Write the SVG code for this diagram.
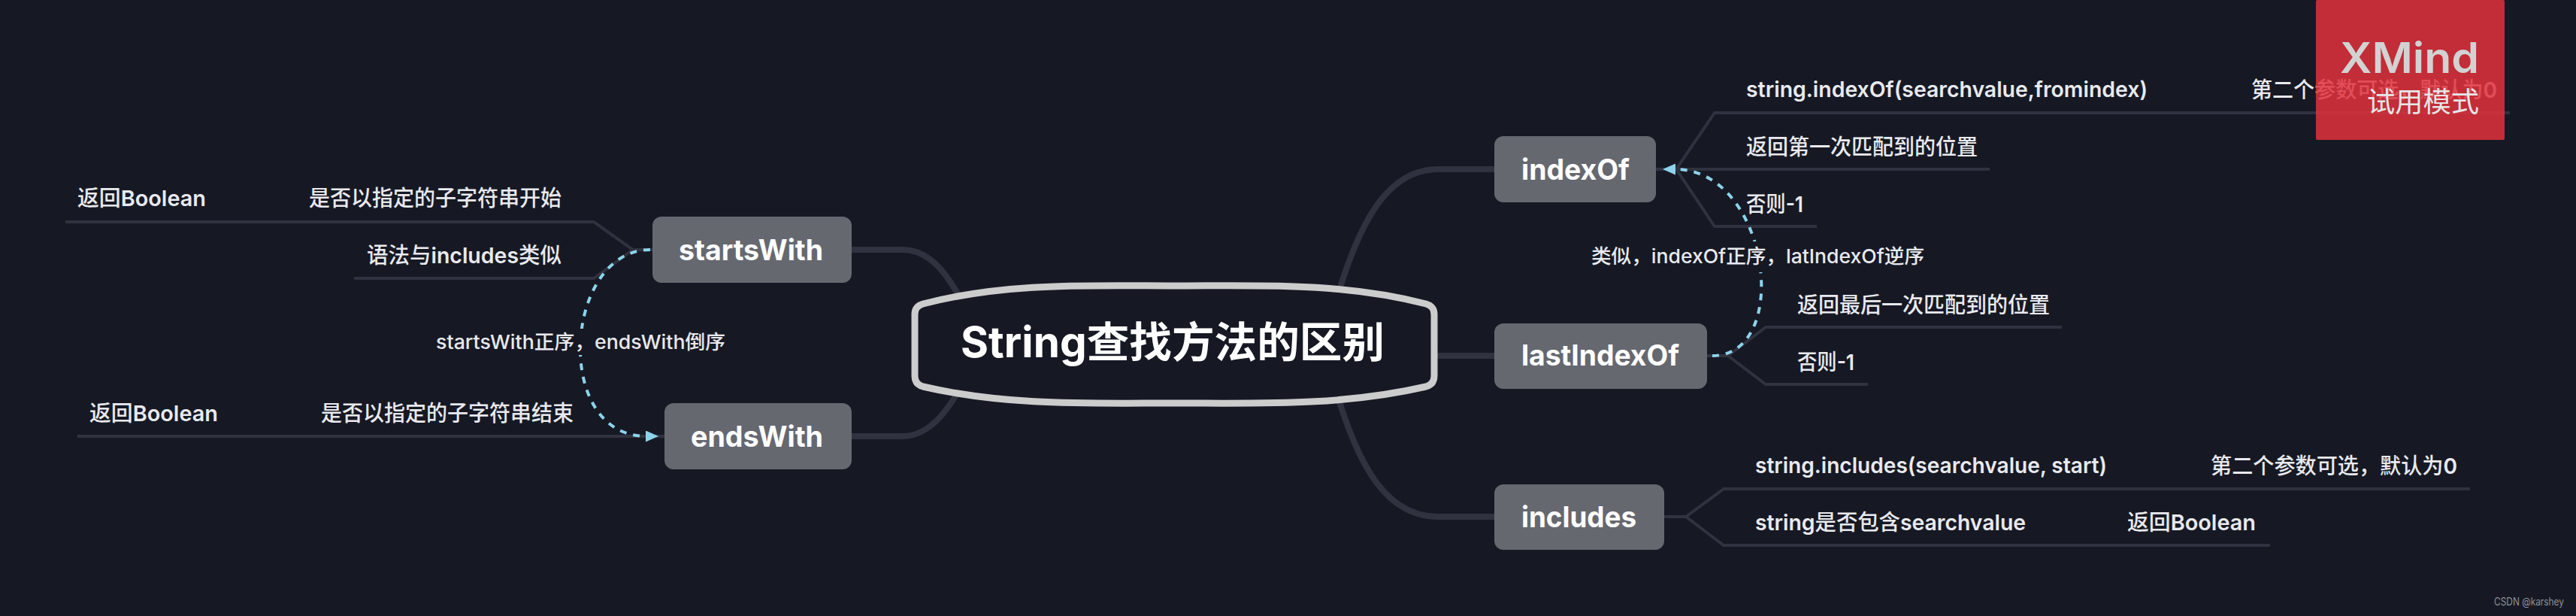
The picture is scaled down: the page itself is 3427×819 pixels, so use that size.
<svg xmlns="http://www.w3.org/2000/svg" width="3427" height="819" viewBox="0 0 3427 819">
<style>
text{font-family:"Inter","Noto Sans CJK SC","Noto Sans",sans-serif;}
.node{fill:#666870;}
.nt{fill:#fff;font-size:38px;font-weight:700;}
.lb{fill:#e9e9ee;font-size:29px;font-weight:500;}
.b{font-weight:600;}
.rl{fill:#e9e9ee;font-size:26px;font-weight:500;}
.main{fill:none;stroke:#30323f;stroke-width:8;}
.sub{fill:none;stroke:#30323f;stroke-width:4;}
.rel{fill:none;stroke:#8dd3ec;stroke-width:4;stroke-dasharray:9 9;}
.mask{fill:#161924;}
</style>
<defs>
<marker id="arr" markerUnits="userSpaceOnUse" markerWidth="17" markerHeight="15" refX="1" refY="7.5" orient="auto"><path d="M0 0L17 7.5L0 15Z" fill="#8dd3ec"/></marker>
</defs>
<rect width="3427" height="819" fill="#161924"/>
<g id="connectors">
<path class="main" d="M1770 425C1800 320 1835 225 1913 225L1988 225"/>
<path class="main" d="M1850 473L1988 473"/>
<path class="main" d="M1770 495C1800 600 1835 687 1913 687L1988 687"/>
<path class="main" d="M1290 420C1265 370 1240 332 1201 332L1133 332"/>
<path class="main" d="M1290 495C1265 540 1240 580 1201 580L1133 580"/>
<path class="sub" d="M2203 225L2647 225M3339 150L2281 150L2230 225L2281 301L2417 301"/>
<path class="sub" d="M2271 473L2299 473M2743 435L2349 435L2299 473L2349 511L2485 511"/>
<path class="sub" d="M2214 687L2243 687M3286 650L2293 650L2243 687L2293 725L3020 725"/>
<path class="sub" d="M868 332L842 332M87 295L790 295L842 332L790 370L471 370"/>
<path class="sub" d="M884 580L103 580"/>
<path class="rel" d="M2278 473C2385 473 2355 225 2228 225" marker-end="url(#arr)"/>
<path class="rel" d="M865 332C750 332 734 580 860 580" marker-end="url(#arr)"/>
</g>
<g id="center">
<path d="M1228 404C1340 375 1450 380 1562 380C1675 380 1785 375 1897 404Q1908 407 1908 418L1908 500Q1908 511 1897 514C1785 540 1675 536 1562 536C1450 536 1340 540 1228 514Q1217 511 1217 500L1217 418Q1217 407 1228 404Z" fill="#161924" stroke="#cccccc" stroke-width="9"/>
<text x="1278" y="475" textLength="564" lengthAdjust="spacingAndGlyphs" fill="#fff" font-size="56" font-weight="700">String查找方法的区别</text>
</g>
<g id="indexOf">
<rect class="node" x="1988" y="181" width="215" height="88" rx="12"/>
<text class="nt" x="2024" y="239" textLength="144" lengthAdjust="spacingAndGlyphs">indexOf</text>
</g>
<g id="lastIndexOf">
<rect class="node" x="1988" y="430" width="283" height="87" rx="12"/>
<text class="nt" x="2024" y="486" textLength="210" lengthAdjust="spacingAndGlyphs">lastIndexOf</text>
</g>
<g id="includes">
<rect class="node" x="1988" y="644" width="226" height="87" rx="12"/>
<text class="nt" x="2024" y="701" textLength="153" lengthAdjust="spacingAndGlyphs">includes</text>
</g>
<g id="startsWith">
<rect class="node" x="868" y="288" width="265" height="88" rx="12"/>
<text class="nt" x="903" y="346" textLength="192" lengthAdjust="spacingAndGlyphs">startsWith</text>
</g>
<g id="endsWith">
<rect class="node" x="884" y="536" width="249" height="88" rx="12"/>
<text class="nt" x="919" y="594" textLength="176" lengthAdjust="spacingAndGlyphs">endsWith</text>
</g>
<g id="indexOf-items">
<text class="lb b" x="2323" y="129" textLength="534" lengthAdjust="spacingAndGlyphs">string.indexOf(searchvalue,fromindex)</text>
<text class="lb" x="2995" y="130" textLength="327" lengthAdjust="spacingAndGlyphs">第二个参数可选，默认为<tspan class="b">0</tspan></text>
<text class="lb" x="2323" y="206" textLength="308" lengthAdjust="spacingAndGlyphs">返回第一次匹配到的位置</text>
<text class="lb" x="2323" y="282" textLength="76" lengthAdjust="spacingAndGlyphs">否则<tspan class="b">-1</tspan></text>
</g>
<g id="lastIndexOf-items">
<text class="lb" x="2391" y="416" textLength="336" lengthAdjust="spacingAndGlyphs">返回最后一次匹配到的位置</text>
<text class="lb" x="2391" y="492" textLength="76" lengthAdjust="spacingAndGlyphs">否则<tspan class="b">-1</tspan></text>
</g>
<g id="includes-items">
<text class="lb b" x="2335" y="629" textLength="468" lengthAdjust="spacingAndGlyphs">string.includes(searchvalue, start)</text>
<text class="lb" x="2941" y="630" textLength="328" lengthAdjust="spacingAndGlyphs">第二个参数可选，默认为<tspan class="b">0</tspan></text>
<text class="lb" x="2335" y="705" textLength="360" lengthAdjust="spacingAndGlyphs"><tspan class="b">string</tspan>是否包含<tspan class="b">searchvalue</tspan></text>
<text class="lb" x="2830" y="705" textLength="171" lengthAdjust="spacingAndGlyphs">返回<tspan class="b">Boolean</tspan></text>
</g>
<g id="startsWith-items">
<text class="lb" x="103" y="274" textLength="171" lengthAdjust="spacingAndGlyphs">返回<tspan class="b">Boolean</tspan></text>
<text class="lb" x="411" y="274" textLength="336" lengthAdjust="spacingAndGlyphs">是否以指定的子字符串开始</text>
<text class="lb" x="488" y="350" textLength="259" lengthAdjust="spacingAndGlyphs">语法与<tspan class="b">includes</tspan>类似</text>
</g>
<g id="endsWith-items">
<text class="lb" x="119" y="560" textLength="171" lengthAdjust="spacingAndGlyphs">返回<tspan class="b">Boolean</tspan></text>
<text class="lb" x="427" y="560" textLength="336" lengthAdjust="spacingAndGlyphs">是否以指定的子字符串结束</text>
</g>
<g id="relation-labels">
<rect class="mask" x="2112" y="321" width="453" height="41"/>
<text class="rl" x="2117" y="350" textLength="443" lengthAdjust="spacingAndGlyphs">类似，indexOf正序，latIndexOf逆序</text>
<rect class="mask" x="575" y="437" width="395" height="35"/>
<text class="rl" x="580" y="464" textLength="385" lengthAdjust="spacingAndGlyphs">startsWith正序，endsWith倒序</text>
</g>
<g id="watermark">
<rect x="3081" y="0" width="251" height="186" rx="2" fill="#e0313c" fill-opacity="0.85"/>
<text x="3113" y="97" textLength="185" lengthAdjust="spacingAndGlyphs" fill="#d2d2d2" font-size="57" font-weight="600">XMind</text>
<text x="3149" y="149" textLength="149" lengthAdjust="spacingAndGlyphs" fill="#e6e6e6" font-size="37">试用模式</text>
</g>
<text x="3318" y="805" textLength="93" lengthAdjust="spacingAndGlyphs" fill="#8e9097" font-size="14">CSDN @karshey</text>
</svg>
